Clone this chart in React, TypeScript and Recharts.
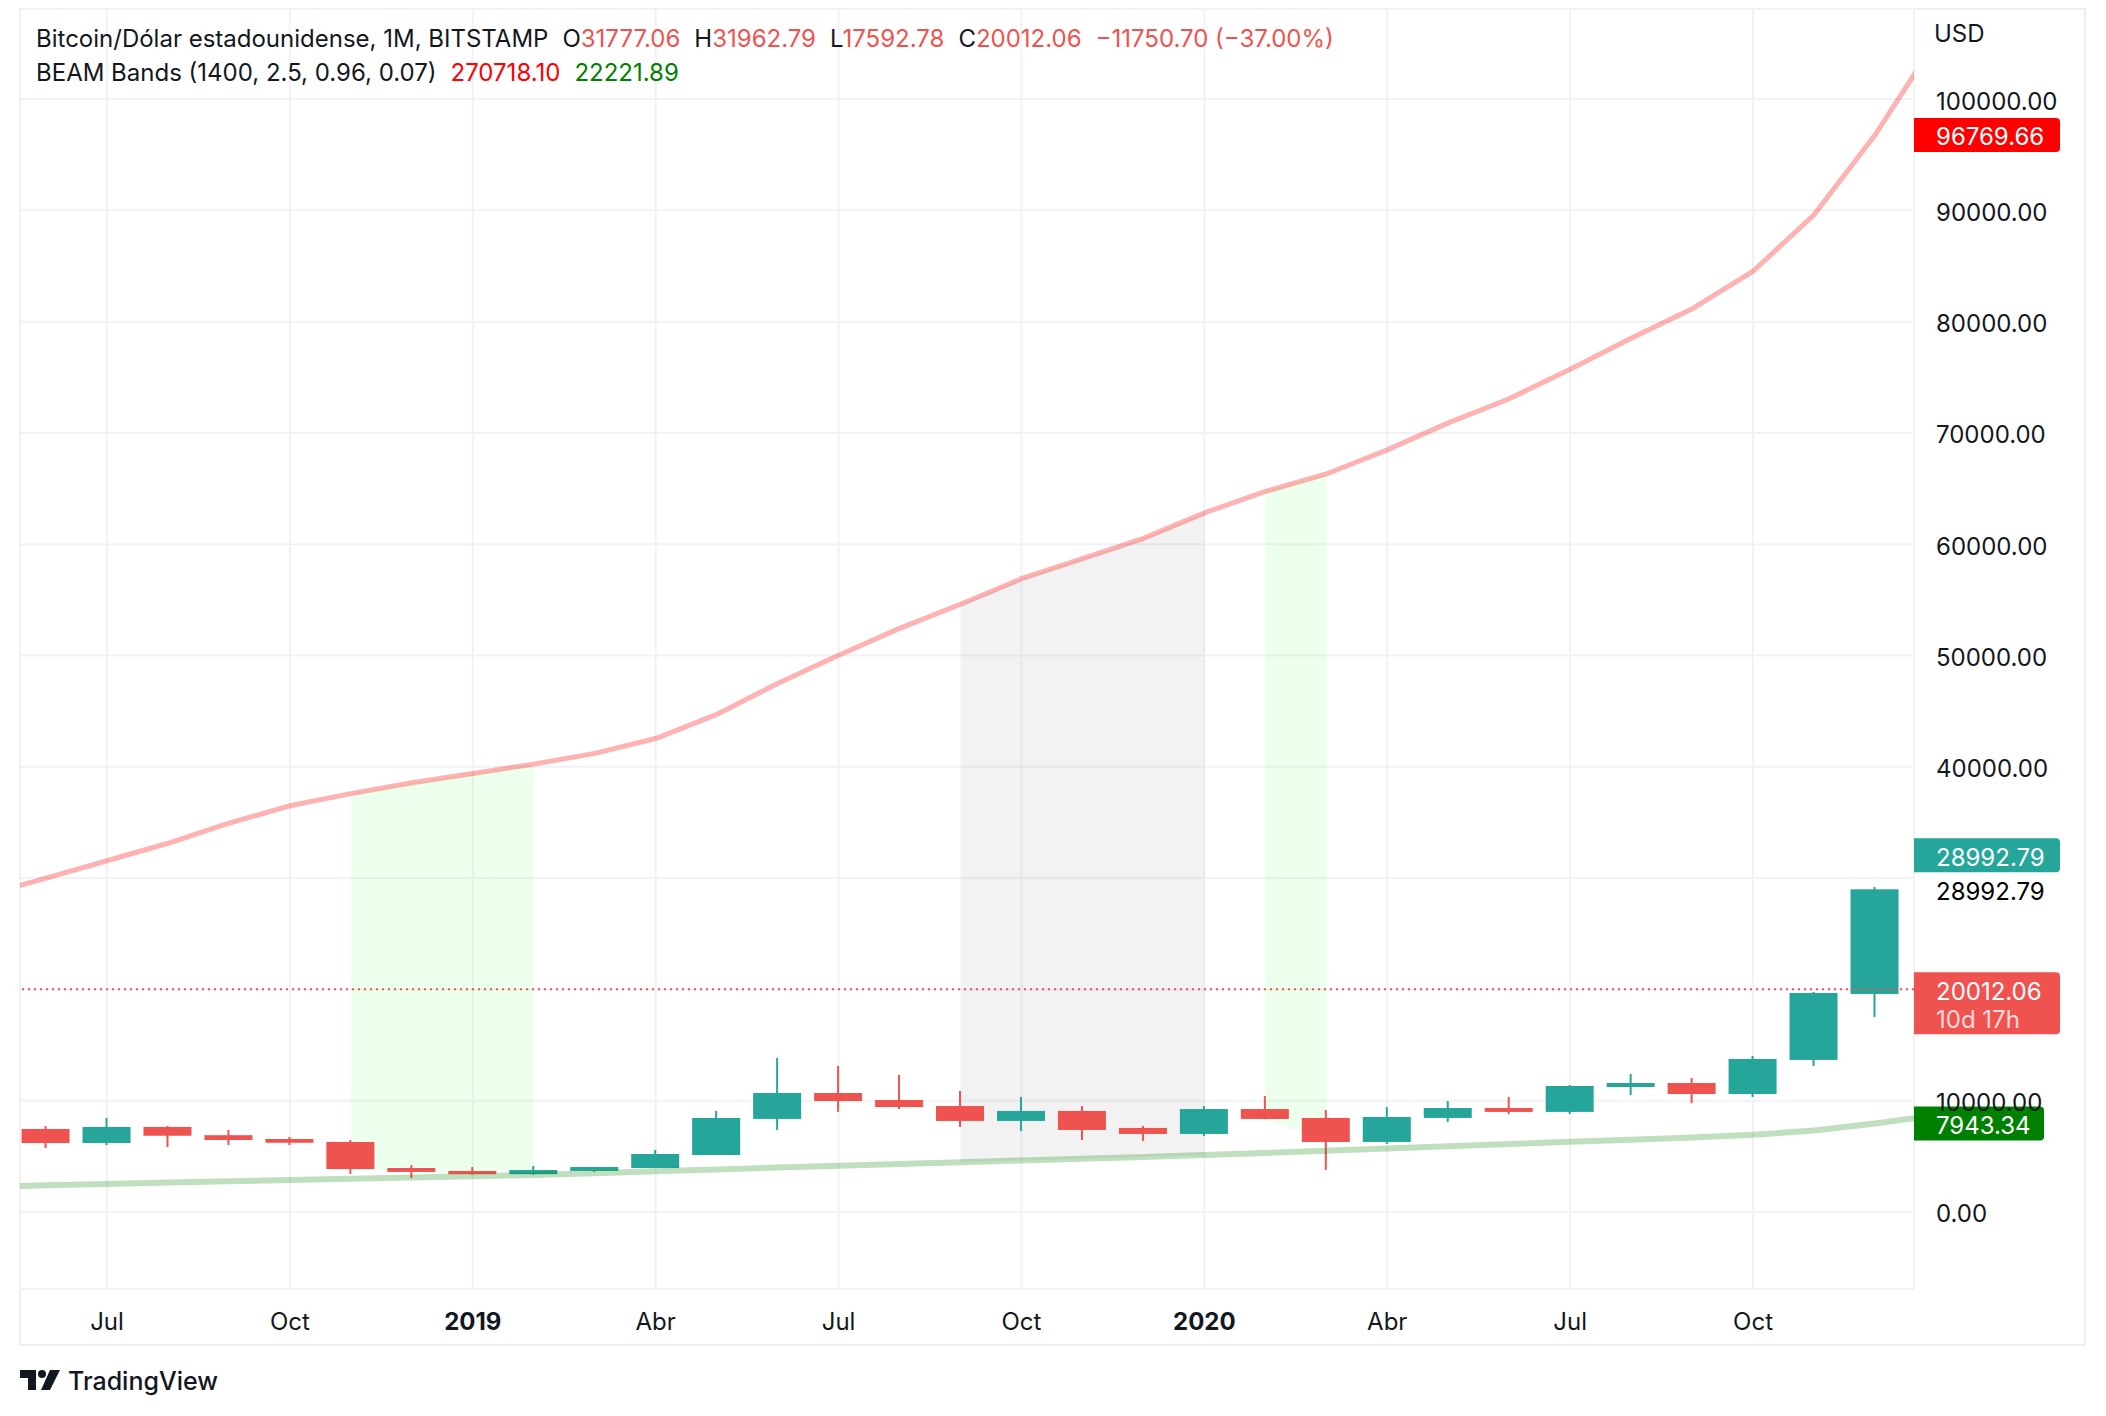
import {
  ComposedChart,
  XAxis,
  YAxis,
  CartesianGrid,
  Line,
  Area,
  Bar,
  ReferenceLine,
} from "recharts";

// monthly bars, May 2018 .. Jan 2021 (first and last only carry the bands)
const months = [
  "2018-05", "2018-06", "2018-07", "2018-08", "2018-09", "2018-10", "2018-11", "2018-12",
  "2019-01", "2019-02", "2019-03", "2019-04", "2019-05", "2019-06", "2019-07", "2019-08",
  "2019-09", "2019-10", "2019-11", "2019-12", "2020-01", "2020-02", "2020-03", "2020-04",
  "2020-05", "2020-06", "2020-07", "2020-08", "2020-09", "2020-10", "2020-11", "2020-12",
  "2021-01",
];

const opens = [
  null, 7460, 6200, 7640, 6900, 6560, 6290, 3950,
  3690, 3400, 3690, 3950, 5120, 8360, 10690, 10060,
  9520, 8180, 9080, 7550, 7010, 9250, 8450, 6290,
  8450, 9340, 8990, 11230, 11590, 10600, 13660, 19590,
  null,
];
const highs = [
  null, 7730, 8450, 7730, 7370, 6740, 6470, 4220,
  4040, 4130, 4040, 5570, 9080, 13840, 13120, 12310,
  10870, 10330, 9520, 7730, 9520, 10420, 9170, 9430,
  9970, 10330, 11410, 12400, 12040, 14020, 19770, 29200,
  null,
];
const lows = [
  null, 5750, 6020, 5840, 6020, 6020, 3420, 3060,
  3360, 3340, 3600, 3950, 5120, 7370, 8990, 9250,
  7640, 7280, 6470, 6380, 6830, 8340, 3780, 6110,
  8090, 8800, 8800, 10510, 9790, 10330, 13120, 17520,
  null,
];
const closes = [
  null, 6200, 7640, 6850, 6470, 6220, 3860, 3600,
  3400, 3770, 4040, 5210, 8450, 10690, 9970, 9430,
  8180, 9080, 7370, 7010, 9250, 8360, 6290, 8540,
  9340, 8990, 11320, 11590, 10600, 13750, 19680, 28992.79,
  null,
];

// BEAM Bands (1400, 2.5, 0.96, 0.07)
const upperBand = [
  28500, 29990, 31560, 33130, 34930, 36500, 37590, 38560,
  39400, 40240, 41210, 42540, 44710, 47490, 50020, 52440,
  54610, 56900, 58710, 60520, 62810, 64740, 66310, 68480,
  70900, 73070, 75720, 78500, 81150, 84530, 89600, 96769.66,
  105200,
];
const lowerBand = [
  2250, 2400, 2520, 2640, 2760, 2880, 2990, 3090,
  3200, 3330, 3480, 3650, 3820, 3990, 4150, 4310,
  4470, 4630, 4790, 4950, 5110, 5300, 5500, 5700,
  5900, 6100, 6310, 6500, 6700, 6930, 7320, 7943.34,
  8700,
];

// background zones
const greenZone = ["2018-11", "2018-12", "2019-01", "2019-02", "2020-02", "2020-03"];
const grayZone = ["2019-09", "2019-10", "2019-11", "2019-12", "2020-01"];

const xTicks = [1, 4, 7, 10, 13, 16, 19, 22, 25, 28];
const xTickLabels = ["Jul", "Oct", "2019", "Abr", "Jul", "Oct", "2020", "Abr", "Jul", "Oct"];
const yTicks = [0, 10000, 20000, 30000, 40000, 50000, 60000, 70000, 80000, 90000, 100000];
const hiddenYTicks = [20000, 30000];

const lastPrice = 20012.06;
const lastClose = 28992.79;

const data = months.map((m, idx) => ({
  i: idx - 1,
  o: opens[idx],
  h: highs[idx],
  l: lows[idx],
  c: closes[idx],
  upper: upperBand[idx],
  lower: lowerBand[idx],
  green: greenZone.includes(m) ? [closes[idx], upperBand[idx]] : null,
  gray: grayZone.includes(m) ? [lowerBand[idx], upperBand[idx]] : null,
}));

const FONT = "Inter, 'Noto Sans', sans-serif";
const TEXT = "#131722";
const UP = "#26a69a";
const DOWN = "#ef5350";
const FS = 24;

const Candle = (props: any) => {
  const { x, y, width, height, payload } = props;
  if (payload == null || payload.o == null) return null;
  const { o, h, l, c } = payload;
  const top = Math.min(y, y + height);
  const span = Math.abs(height);
  const k = h === l ? 0 : span / (h - l);
  const yOf = (v: number) => top + (h - v) * k;
  const color = c >= o ? UP : DOWN;
  const cx = x + width / 2;
  const bTop = yOf(Math.max(o, c));
  const bBot = yOf(Math.min(o, c));
  return (
    <g>
      <rect x={cx - 1} y={top} width={2} height={span} fill={color} />
      <rect x={x} y={bTop} width={width} height={Math.max(bBot - bTop, 2)} fill={color} />
    </g>
  );
};

const XTick = (props: any) => {
  const { x, y, payload } = props;
  const label = xTickLabels[xTicks.indexOf(payload.value)];
  const bold = label.length === 4;
  return (
    <text
      x={x}
      y={y}
      dy={32}
      textAnchor="middle"
      dominantBaseline="central"
      fontFamily={FONT}
      fontSize={FS}
      fontWeight={bold ? 700 : 400}
      fill={TEXT}
    >
      {label}
    </text>
  );
};

const YTick = (props: any) => {
  const { x, y, payload } = props;
  if (hiddenYTicks.includes(payload.value)) return null;
  return (
    <text
      x={x}
      y={y}
      dy={2}
      textAnchor="start"
      dominantBaseline="central"
      fontFamily={FONT}
      fontSize={FS}
      fill={TEXT}
    >
      {payload.value.toFixed(2)}
    </text>
  );
};

// box with square left side and rounded right corners
const tagPath = (x: number, y: number, w: number, h: number, r = 4) =>
  `M${x},${y} H${x + w - r} Q${x + w},${y} ${x + w},${y + r} V${y + h - r} Q${x + w},${y + h} ${x + w - r},${y + h} H${x} Z`;

// price tag drawn in the price scale next to a horizontal level
const PriceTag = (props: any) => {
  const { viewBox, text, sub, fill, w = 146, shift = 0, plain } = props;
  if (!viewBox) return null;
  const left = viewBox.x + viewBox.width;
  const yc = viewBox.y + shift;
  const h = sub ? 62 : 34;
  return (
    <g>
      {plain && (
        <text
          x={left + 22}
          y={viewBox.y}
          dy={2}
          dominantBaseline="central"
          fontFamily={FONT}
          fontSize={FS}
          fill="#000000"
        >
          {plain}
        </text>
      )}
      <path d={tagPath(left, yc - 17, w, h)} fill={fill} />
      <text
        x={left + 22}
        y={yc}
        dy={2}
        dominantBaseline="central"
        fontFamily={FONT}
        fontSize={FS}
        fill="#ffffff"
      >
        {text}
      </text>
      {sub && (
        <text
          x={left + 22}
          y={yc + 28}
          dy={2}
          dominantBaseline="central"
          fontFamily={FONT}
          fontSize={FS}
          fill="#ffffff"
          fillOpacity={0.8}
        >
          {sub}
        </text>
      )}
    </g>
  );
};

const red = { color: DOWN };

export default function App() {
  return (
    <div
      style={{
        position: "absolute",
        left: 0,
        top: 0,
        width: 2106,
        height: 1416,
        background: "#ffffff",
        fontFamily: FONT,
        color: TEXT,
      }}
    >
      <div
        style={{
          position: "absolute",
          left: 19,
          top: 8,
          width: 2067,
          height: 1338,
          border: "2px solid #eceef2",
          boxSizing: "border-box",
        }}
      />
      <ComposedChart
        width={2106}
        height={1416}
        data={data}
        margin={{ top: 9, right: 20, bottom: 70, left: 20 }}
        style={{ position: "absolute", left: 0, top: 0 }}
      >
        <CartesianGrid stroke="#f1f2f5" strokeWidth={2} />
        <XAxis
          dataKey="i"
          type="number"
          domain={[-0.427, 30.64]}
          allowDataOverflow
          ticks={xTicks}
          tick={<XTick />}
          tickLine={false}
          axisLine={false}
          tickSize={0}
          tickMargin={0}
          height={57}
          interval={0}
        />
        <YAxis
          orientation="right"
          type="number"
          domain={[-6920, 108090]}
          allowDataOverflow
          ticks={yTicks}
          tick={<YTick />}
          tickLine={false}
          axisLine={false}
          tickSize={0}
          tickMargin={22}
          width={172}
          interval={0}
        />
        <Area
          dataKey="gray"
          type="linear"
          stroke="none"
          fill="#808080"
          fillOpacity={0.1}
          isAnimationActive={false}
          connectNulls={false}
        />
        <Area
          dataKey="green"
          type="linear"
          stroke="none"
          fill="#00ff00"
          fillOpacity={0.07}
          isAnimationActive={false}
          connectNulls={false}
        />
        <Line
          dataKey="upper"
          type="linear"
          stroke="#ff0000"
          strokeOpacity={0.3}
          strokeWidth={5}
          dot={false}
          isAnimationActive={false}
        />
        <Line
          dataKey="lower"
          type="linear"
          stroke="#008000"
          strokeOpacity={0.25}
          strokeWidth={6}
          dot={false}
          isAnimationActive={false}
        />
        <Bar
          dataKey={(d: any) => (d.o == null ? null : [d.l, d.h])}
          barSize={48}
          shape={<Candle />}
          isAnimationActive={false}
        />
        <ReferenceLine
          y={lastPrice}
          stroke={DOWN}
          strokeWidth={2}
          strokeDasharray="2 4"
          label={<PriceTag text="20012.06" sub="10d 17h" fill={DOWN} />}
        />
        <ReferenceLine
          y={lastClose}
          stroke="none"
          label={<PriceTag text="28992.79" plain="28992.79" fill={UP} shift={-34} />}
        />
        <ReferenceLine
          y={upperBand[31]}
          stroke="none"
          label={<PriceTag text="96769.66" fill="#ff0000" />}
        />
        <ReferenceLine
          y={lowerBand[31]}
          stroke="none"
          label={<PriceTag text="7943.34" fill="#008000" w={130} />}
        />
      </ComposedChart>

      <div
        style={{
          position: "absolute",
          left: 36,
          top: 22,
          fontSize: FS,
          lineHeight: "34px",
          whiteSpace: "nowrap",
        }}
      >
        <div>
          <span>Bitcoin/Dólar estadounidense, 1M, BITSTAMP</span>
          <span style={{ marginLeft: 14 }}>O</span>
          <span style={red}>31777.06</span>
          <span style={{ marginLeft: 14 }}>H</span>
          <span style={red}>31962.79</span>
          <span style={{ marginLeft: 14 }}>L</span>
          <span style={red}>17592.78</span>
          <span style={{ marginLeft: 14 }}>C</span>
          <span style={red}>20012.06</span>
          <span style={{ ...red, marginLeft: 14 }}>−11750.70 (−37.00%)</span>
        </div>
        <div>
          <span>BEAM Bands (1400, 2.5, 0.96, 0.07)</span>
          <span style={{ marginLeft: 14, color: "#ff0000" }}>270718.10</span>
          <span style={{ marginLeft: 14, color: "#008000" }}>22221.89</span>
        </div>
      </div>

      <div
        style={{
          position: "absolute",
          left: 1934,
          top: 19,
          fontSize: FS,
          lineHeight: "30px",
        }}
      >
        USD
      </div>

      <div
        style={{
          position: "absolute",
          left: 20,
          top: 1366,
          display: "flex",
          alignItems: "center",
          gap: 8,
        }}
      >
        <svg width={40} height={22} viewBox="0 0 40 22">
          <path d="M0 0 H16 V20 H8 V8 H0 Z" fill={TEXT} />
          <circle cx={22} cy={4} r={4} fill={TEXT} />
          <path d="M30 0 H40 L30 20 H21 Z" fill={TEXT} />
        </svg>
        <span style={{ fontSize: 25, fontWeight: 500, lineHeight: "30px" }}>TradingView</span>
      </div>
    </div>
  );
}
